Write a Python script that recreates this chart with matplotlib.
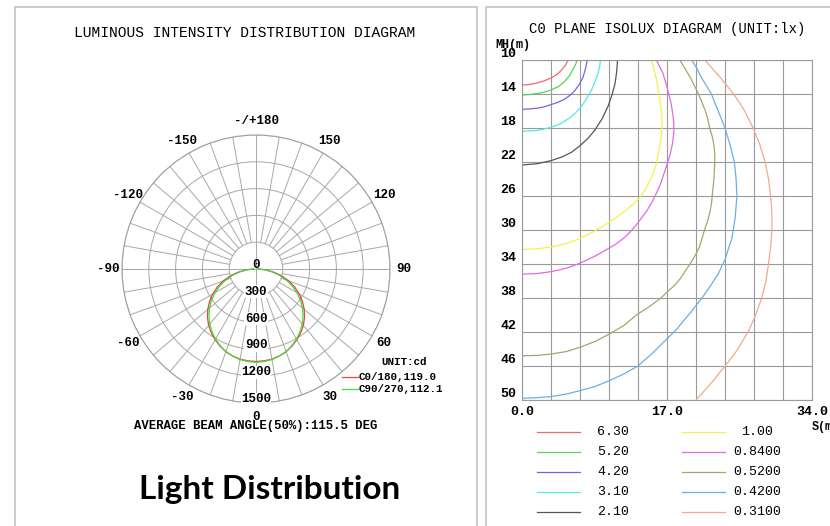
import numpy as np
import matplotlib.pyplot as plt
from matplotlib.lines import Line2D
from matplotlib.patches import Rectangle

W, H = 830, 526
MONO = "Liberation Mono"

# luminous intensity (cd) against gamma angle
gamma = [0, 5, 10, 15, 20, 25, 30, 35, 40, 45, 50, 55, 60, 65, 70, 75, 80, 85, 90]
c0_cd = [1035, 1032, 1025, 1008, 985, 953, 915, 872, 825, 768, 705, 635, 560,
         478, 390, 298, 200, 110, 30]
c90_cd = [1045, 1040, 1030, 1010, 985, 948, 905, 858, 805, 745, 680, 608, 530,
          447, 360, 270, 180, 95, 20]
ring_values = [300, 600, 900, 1200, 1500]
angle_ticks = [0, 30, 60, 90, 120, 150, 180, -30, -60, -90, -120, -150]
angle_names = ["0", "30", "60", "90", "120", "150", "-/+180",
               "-30", "-60", "-90", "-120", "-150"]

# isolux curves: (S in m, MH in m) points
iso_levels = ["6.30", "5.20", "4.20", "3.10", "2.10",
              "1.00", "0.8400", "0.5200", "0.4200", "0.3100"]
iso_colors = ["#f06a6a", "#55d455", "#6a6ae0", "#50eaea", "#555555",
              "#f2f24a", "#e26ae2", "#a6a66a", "#6aaee8", "#f2aa8a"]
iso_s = [
    [0, 0.8, 1.55, 2.5, 3.4, 4.1, 4.64, 5.1, 5.41],
    [0, 1.0, 1.93, 2.7, 3.4, 4.3, 5.02, 5.6, 5.99, 6.3, 6.45],
    [0, 1.0, 1.93, 2.7, 3.4, 4.3, 5.02, 5.7, 6.18, 6.7, 7.15, 7.45, 7.65],
    [0, 1.55, 2.5, 3.4, 4.5, 5.41, 6.2, 6.8, 7.5, 8.11, 8.55, 8.89, 9.1, 9.2],
    [0, 1.8, 3.4, 4.7, 5.8, 6.8, 7.7, 8.5, 9.4, 10.12, 10.55, 10.9, 11.1, 11.2],
    [0, 1.8, 3.4, 5.2, 6.8, 8.2, 9.4, 10.5, 11.5, 12.4, 13.2, 13.8, 14.3, 14.8,
     15.3, 15.7, 16.0, 16.25, 16.4, 16.4, 16.2, 16.0, 15.8, 15.5, 15.2],
    [0, 1.8, 3.4, 5.2, 6.8, 8.5, 10.1, 11.1, 12.0, 12.7, 13.4, 14.0, 14.6, 15.2,
     15.7, 16.2, 16.6, 17.0, 17.4, 17.65, 17.8, 17.8, 17.7, 17.5, 17.2, 16.9,
     16.5, 16.1, 15.75],
    [0, 1.8, 3.4, 5.2, 6.8, 8.6, 10.3, 12.0, 13.4, 14.5, 15.5, 16.3, 17.0, 17.8,
     18.5, 19.1, 19.7, 20.3, 20.8, 21.1, 21.4, 21.75, 22.0, 22.2, 22.3, 22.5,
     22.6, 22.6, 22.5, 22.3, 22.0, 21.8, 21.5, 21.1, 20.7, 20.2, 19.7, 19.1, 18.5],
    [0, 1.8, 3.4, 5.2, 6.8, 8.6, 10.3, 12.0, 13.6, 15.4, 17.2, 18.2, 19.0, 19.7,
     20.4, 21.1, 21.8, 22.4, 23.0, 23.4, 23.8, 24.2, 24.6, 24.8, 25.0, 25.1,
     25.2, 25.1, 24.9, 24.4, 23.8, 23.4, 23.0, 22.6, 22.2, 21.6, 21.0, 20.5, 19.9],
    [20.4, 21.3, 22.2, 23.0, 23.8, 24.6, 25.3, 25.9, 26.5, 27.4, 28.1, 28.6, 28.9,
     29.15, 29.3, 29.3, 29.15, 28.9, 28.5, 28.2, 27.9, 27.5, 27.1, 26.6, 26.1,
     25.5, 24.8, 24.0, 23.2, 22.3, 21.45],
]
iso_h = [
    [12.94, 12.9, 12.75, 12.5, 12.12, 11.7, 11.18, 10.6, 10.0],
    [14.12, 14.05, 13.92, 13.75, 13.53, 13.1, 12.51, 11.8, 11.06, 10.5, 10.0],
    [15.8, 15.75, 15.65, 15.48, 15.25, 14.95, 14.59, 14.1, 13.61, 12.9, 12.04,
     11.0, 10.0],
    [18.39, 18.31, 18.15, 17.92, 17.5, 16.94, 16.3, 15.65, 14.7, 13.61, 12.6,
     11.65, 10.8, 10.0],
    [22.35, 22.2, 21.84, 21.4, 20.86, 20.08, 19.25, 18.31, 16.9, 15.37, 14.1,
     12.82, 11.4, 10.0],
    [32.3, 32.2, 32.0, 31.6, 31.0, 30.3, 29.6, 28.9, 28.2, 27.5, 26.8, 26.2, 25.5,
     24.6, 23.5, 22.4, 21.0, 19.5, 18.0, 16.5, 15.0, 13.8, 12.5, 11.2, 10.0],
    [35.2, 35.12, 34.9, 34.5, 33.9, 33.1, 32.2, 31.6, 30.9, 30.2, 29.4, 28.6, 27.8,
     26.8, 25.8, 24.7, 23.5, 22.3, 21.0, 19.8, 18.5, 17.5, 16.5, 15.2, 14.0, 12.8,
     11.5, 10.7, 10.0],
    [44.8, 44.75, 44.6, 44.3, 43.8, 43.1, 42.2, 41.2, 40.0, 39.3, 38.6, 38.0, 37.3,
     36.6, 35.8, 34.9, 34.0, 33.0, 32.0, 31.0, 30.0, 29.0, 28.0, 27.0, 26.0, 24.0,
     22.0, 21.0, 20.0, 19.0, 18.0, 17.0, 16.0, 15.0, 14.0, 13.0, 12.0, 11.0, 10.0],
    [49.8, 49.72, 49.6, 49.3, 48.9, 48.4, 47.7, 46.9, 46.0, 44.4, 42.6, 41.6, 40.6,
     39.8, 38.9, 38.0, 37.0, 36.1, 35.2, 34.3, 33.5, 32.2, 31.0, 29.8, 28.5, 27.2,
     26.0, 24.0, 22.0, 20.0, 18.0, 17.0, 16.0, 15.0, 14.0, 13.0, 12.0, 11.0, 10.0],
    [50.0, 49.0, 48.0, 47.0, 46.0, 45.0, 44.0, 43.0, 42.0, 40.0, 38.0, 36.0, 34.0,
     32.0, 30.0, 28.0, 26.0, 24.0, 22.0, 21.0, 20.0, 19.0, 18.0, 17.0, 16.0,
     15.0, 14.0, 13.0, 12.0, 11.0, 10.0],
]
mh_ticks = [10, 14, 18, 22, 26, 30, 34, 38, 42, 46, 50]
s_grid = [0, 3.4, 6.8, 10.2, 13.6, 17.0, 20.4, 23.8, 27.2, 30.6, 34.0]
s_labels = {0: "0.0", 17.0: "17.0", 34.0: "34.0"}


def fx(x):
    return x / W


def fy(y):
    return 1 - y / H


fig = plt.figure(figsize=(8.3, 5.26), dpi=100)

# panel frames
for x0, x1 in [(15, 477), (486, 840)]:
    fig.add_artist(Rectangle((fx(x0), fy(535)), fx(x1 - x0), (535 - 7) / H,
                             transform=fig.transFigure, fill=False,
                             ec="#c4c4c4", lw=1.2))

# ---- luminous intensity polar diagram ----
cx, cy, R = 256, 269, 134
ax = fig.add_axes([fx(cx - R), fy(cy + R), fx(2 * R), 2 * R / H], projection="polar")
ax.set_theta_zero_location("S")
ax.set_theta_direction(1)
ax.set_ylim(0, 1500)
ax.set_yticks(ring_values)
ax.set_yticklabels([])
ax.set_xticks([])
ax.yaxis.grid(True, color="#a8a8a8", lw=0.7)
ax.xaxis.grid(False)
ax.spines["polar"].set_color("#a0a0a0")
ax.spines["polar"].set_linewidth(0.8)

for a in range(0, 360, 10):
    r0 = 0 if a % 90 == 0 else 300
    ax.plot([np.radians(a)] * 2, [r0, 1500], color="#a8a8a8", lw=0.7, zorder=1)

g = np.radians(gamma)
theta = np.concatenate([-g[::-1], g])
ax.plot(theta, c0_cd[::-1] + c0_cd, color="#f04040", lw=0.9, zorder=3)
ax.plot(theta, c90_cd[::-1] + c90_cd, color="#40dd40", lw=0.9, zorder=3)

for a, name in zip(angle_ticks, angle_names):
    ax.text(np.radians(a), 1655, name, ha="center", va="center",
            family=MONO, weight="bold", fontsize=9)
ax.text(np.pi, 40, "0", ha="center", va="center", family=MONO,
        weight="bold", fontsize=9, zorder=4)
for v in ring_values:
    ax.text(0, v - 45, str(v), ha="center", va="center", family=MONO,
            weight="bold", fontsize=9, zorder=4,
            bbox=dict(fc="white", ec="none", pad=0.3))

fig.text(fx(245), fy(33), "LUMINOUS INTENSITY DISTRIBUTION DIAGRAM",
         ha="center", va="center", family=MONO, fontsize=10.5)
fig.text(fx(256), fy(426), "AVERAGE BEAM ANGLE(50%):115.5 DEG",
         ha="center", va="center", family=MONO, weight="bold", fontsize=8.8)
fig.text(fx(404), fy(362), "UNIT:cd", ha="center", va="center",
         family=MONO, weight="bold", fontsize=7.8)
for y, col, lab in [(377, "#f04040", "C0/180,119.0"), (389, "#40dd40", "C90/270,112.1")]:
    fig.add_artist(Line2D([fx(342), fx(358)], [fy(y), fy(y)], color=col, lw=0.9,
                          transform=fig.transFigure))
    fig.text(fx(359), fy(y), lab, ha="left", va="center", family=MONO,
             weight="bold", fontsize=7.8)

fig.text(fx(270), fy(490), "Light Distribution", ha="center", va="center",
         family="Lato", weight="bold", fontsize=24)

# ---- isolux diagram ----
bx = fig.add_axes([fx(522), fy(400), fx(290), 340 / H])
for s, h, col in zip(iso_s, iso_h, iso_colors):
    bx.plot(s, h, color=col, lw=0.9)
bx.set_xlim(0, 34)
bx.set_ylim(50, 10)
bx.set_xticks(s_grid)
bx.set_xticklabels([s_labels.get(v, "") for v in s_grid])
bx.set_yticks(mh_ticks)
bx.set_yticklabels([str(v) for v in mh_ticks])
bx.grid(True, color="#9a9a9a", lw=0.8)
bx.tick_params(length=0, labelsize=9.5, pad=4)
for lbl in bx.get_yticklabels():
    lbl.set_family(MONO)
    lbl.set_weight("bold")
    lbl.set_va("bottom")
for lbl in bx.get_xticklabels():
    lbl.set_family(MONO)
    lbl.set_weight("bold")
for sp in bx.spines.values():
    sp.set_color("#9a9a9a")
    sp.set_linewidth(0.8)

fig.text(fx(667), fy(29), "C0 PLANE ISOLUX DIAGRAM (UNIT:lx)", ha="center",
         va="center", family=MONO, fontsize=10)
fig.text(fx(495), fy(45), "MH(m)", ha="left", va="center", family=MONO,
         weight="bold", fontsize=8.5)
fig.text(fx(812), fy(427), "S(m)", ha="left", va="center", family=MONO,
         weight="bold", fontsize=8.5)

# isolux legend, two columns
rows_y = [432, 452, 472, 492, 512]
for i, (lev, col) in enumerate(zip(iso_levels, iso_colors)):
    y = rows_y[i % 5]
    lx0, lx1, tx = (537, 580, 613) if i < 5 else (682, 725, 757)
    fig.add_artist(Line2D([fx(lx0), fx(lx1)], [fy(y), fy(y)], color=col, lw=0.9,
                          transform=fig.transFigure))
    fig.text(fx(tx), fy(y), lev, ha="center", va="center", family=MONO,
             fontsize=9.5)

fig.savefig("out.png", dpi=100)
